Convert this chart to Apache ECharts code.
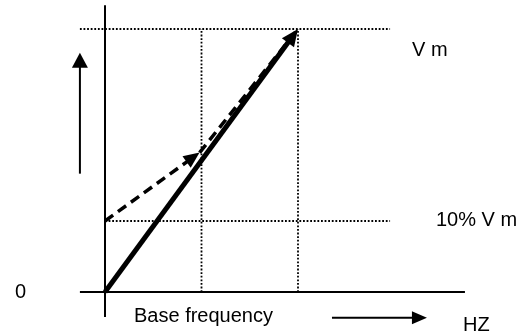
<!DOCTYPE html>
<html>
<head>
<meta charset="utf-8">
<script src="https://cdn.jsdelivr.net/npm/echarts@6/dist/echarts.min.js"></script>
<style>
  html, body { margin: 0; padding: 0; background: #fff; }
  #chart { width: 530px; height: 335px; }
</style>
</head>
<body>
<div id="chart"></div>
<script>
// V/f curve: frequency (% of the Vm frequency) against output voltage (% of Vm)
const freqGuides = [50, 100];          // dotted verticals: base frequency, Vm frequency
const voltGuides = [100, 27];          // dotted horizontals: V m, 10% V m
const linearVF = [[0, 0], [100, 100]];             // plain V/f ramp
const boostVF = [[0, 27], [49, 53], [100, 100]];   // ramp with low-speed torque boost
const voltLabels = ['V m', '10% V m'];
const originLabel = '0';
const freqLabel = 'Base frequency';
const unitLabel = 'HZ';

const FONT = '"Liberation Sans", Arial, sans-serif';
const FONT_SIZE = 20;
const BLACK = '#000';

// Generic straight-segment series drawn through the cartesian scales,
// with an optional filled arrowhead at the end of each segment.
function segmentSeries(name, segments, lineStyle, heads) {
  return {
    type: 'custom',
    name: name,
    coordinateSystem: 'cartesian2d',
    clip: false,
    silent: true,
    data: segments.map(s => [s[0][0], s[0][1], s[1][0], s[1][1]]),
    encode: { x: [0, 2], y: [1, 3] },
    renderItem: function (params, api) {
      const p1 = api.coord([api.value(0), api.value(1)]);
      const p2 = api.coord([api.value(2), api.value(3)]);
      const head = heads ? heads[params.dataIndex] : null;
      const children = [];
      let end = p2;
      if (head) {
        const dx = p2[0] - p1[0], dy = p2[1] - p1[1];
        const len = Math.sqrt(dx * dx + dy * dy);
        const ux = dx / len, uy = dy / len;
        const bx = p2[0] - ux * head.len, by = p2[1] - uy * head.len;
        end = [bx + ux * 2, by + uy * 2];
        children.push({
          type: 'polygon',
          shape: { points: [
            [p2[0], p2[1]],
            [bx - uy * head.half, by + ux * head.half],
            [bx + uy * head.half, by - ux * head.half]
          ] },
          style: { fill: BLACK }
        });
      }
      children.unshift({
        type: 'line',
        shape: { x1: p1[0], y1: p1[1], x2: end[0], y2: end[1] },
        style: Object.assign({ stroke: BLACK, fill: null, lineCap: 'butt' }, lineStyle)
      });
      return { type: 'group', children: children };
    }
  };
}

// Frame extents in data units
const X_LEFT = -13, X_RIGHT = 186.5, Y_TOP = 109, Y_BOTTOM = -9.5, GUIDE_END = 147.7;

const axesSegs = [
  [[0, Y_BOTTOM], [0, Y_TOP]],
  [[X_LEFT, 0], [X_RIGHT, 0]]
];

const dottedSegs = [
  [[X_LEFT, voltGuides[0]], [GUIDE_END, voltGuides[0]]],
  [[0, voltGuides[1]], [GUIDE_END, voltGuides[1]]],
  [[freqGuides[0], 0], [freqGuides[0], voltGuides[0]]],
  [[freqGuides[1], 0], [freqGuides[1], voltGuides[0]]]
];

// Direction arrows beside the axes
const pointerSegs = [
  [[X_LEFT, 45], [X_LEFT, 91]],
  [[117.6, -9.8], [166.8, -9.8]]
];

function label(text, left, top) {
  return { type: 'text', left: left, top: top,
    style: { text: text, font: FONT_SIZE + 'px ' + FONT, fill: BLACK } };
}

const option = {
  animation: false,
  backgroundColor: '#fff',
  grid: { left: 105, top: 29, width: 193, height: 263 },
  xAxis: { type: 'value', min: 0, max: 100, show: false },
  yAxis: { type: 'value', min: 0, max: 100, show: false },
  series: [
    segmentSeries('guides', dottedSegs, { lineWidth: 1.8, lineDash: [1.8, 1.8] }),
    segmentSeries('axes', axesSegs, { lineWidth: 2 }),
    segmentSeries('pointers', pointerSegs, { lineWidth: 2 },
      [{ len: 15, half: 8 }, { len: 15, half: 6.5 }]),
    segmentSeries('boost', [[boostVF[0], boostVF[1]], [boostVF[1], boostVF[2]]],
      { lineWidth: 3.5, lineDash: [10, 6] },
      [{ len: 16, half: 7 }, null]),
    segmentSeries('linear', [[linearVF[0], linearVF[1]]], { lineWidth: 5 },
      [{ len: 17, half: 7.5 }])
  ],
  graphic: [
    label(voltLabels[0], 412, 40),
    label(voltLabels[1], 436, 210),
    label(originLabel, 15, 282),
    label(freqLabel, 134, 306),
    label(unitLabel, 463, 315)
  ]
};

const chart = echarts.init(document.getElementById('chart'), null, { renderer: 'canvas' });
chart.setOption(option);
</script>
</body>
</html>
